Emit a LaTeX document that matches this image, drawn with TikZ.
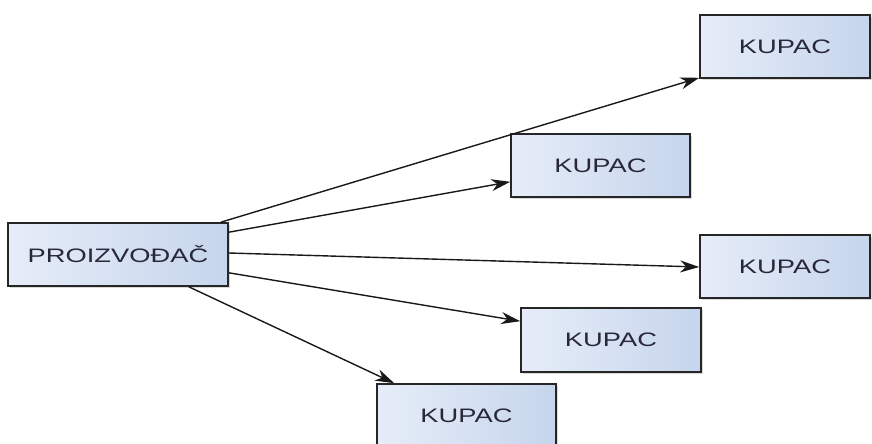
\documentclass[tikz,border=0pt]{standalone}
\usepackage{fontspec}
\usepackage{graphicx}
\setmainfont{Liberation Sans}
\usetikzlibrary{arrows.meta,shadows}
\definecolor{boxleft}{RGB}{230,237,248}
\definecolor{boxright}{RGB}{198,213,236}
\definecolor{boxtext}{RGB}{40,40,58}
\newcommand{\widetext}[1]{\scalebox{1.4}[1]{#1}}

\begin{document}
\begin{tikzpicture}[x=1pt, y=-1pt,
    box/.style={draw=black!85, line width=1.6pt, rectangle, left color=boxleft, right color=boxright,
        text=boxtext, font=\fontsize{19.5}{22}\selectfont, inner sep=0pt,
        drop shadow={shadow xshift=2pt, shadow yshift=-2pt, opacity=0.3}},
    link/.style={draw=black!90, line width=1.4pt, -{Stealth[length=19pt, width=12pt, inset=6pt]}}]
    \useasboundingbox (0,0) rectangle (872,444);
    % producer
    \node[box, minimum width=220pt, minimum height=63pt] (src) at (118,254.5) {\widetext{PROIZVOĐAČ}};
    % buyers
    \node[box, minimum width=170pt, minimum height=63pt] (k1) at (785,46.5) {\widetext{KUPAC}};
    \node[box, minimum width=179pt, minimum height=63pt] (k2) at (600.5,165.5) {\widetext{KUPAC}};
    \node[box, minimum width=170pt, minimum height=63pt] (k3) at (785,266.5) {\widetext{KUPAC}};
    \node[box, minimum width=180pt, minimum height=64pt] (k4) at (611,340) {\widetext{KUPAC}};
    \node[box, minimum width=179pt, minimum height=63pt] (k5) at (466.5,415.5) {\widetext{KUPAC}};

    \draw[link] ([xshift=-8pt]src.north east) -- ([yshift=1pt]k1.south west);
    \draw[link] ([yshift=-10pt]src.north east) -- ([yshift=16pt]k2.south west);
    \draw[link] ([yshift=1.5pt]src.east) -- ([yshift=-0.5pt]k3.west);
    \draw[link] ([yshift=14pt]src.south east) -- ([yshift=-14pt]k4.north west);
    \draw[link] ([xshift=-40pt]src.south east) -- ([xshift=18pt]k5.north west);
\end{tikzpicture}
\end{document}
